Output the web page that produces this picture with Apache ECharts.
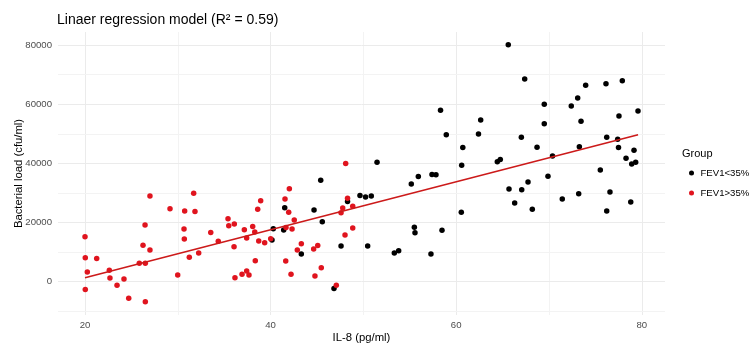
<!DOCTYPE html>
<html>
<head>
<meta charset="utf-8">
<script src="https://cdn.jsdelivr.net/npm/echarts@6/dist/echarts.min.js"></script>
<style>
html,body{margin:0;padding:0;background:#fff;}
#chart{width:754px;height:343px;}
</style>
</head>
<body>
<div id="chart"></div>
<script>
// ---- data ----
const xTicks = [20, 40, 60, 80];
const xMinor = [30, 50, 70];
const yTicks = [0, 20000, 40000, 60000, 80000];
const yMinor = [-10000, 10000, 30000, 50000, 70000];

// Group FEV1<35% (black)
const lowX = [40.15, 40.29, 41.41, 41.52, 43.31, 44.68, 45.40, 45.57, 46.83, 47.59,
  48.29, 49.63, 50.23, 50.85, 51.47, 50.46, 53.33, 53.80, 55.16, 55.92,
  57.39, 57.82, 55.49, 55.56, 58.47, 57.28, 60.59, 60.71, 60.55, 58.93,
  62.40, 58.31, 62.64, 64.43, 64.75, 65.61, 67.38, 67.02, 68.71, 69.49,
  69.49, 70.38, 72.40, 73.09, 73.95, 73.45, 73.27, 76.14, 77.90, 76.22,
  77.40, 77.54, 77.49, 79.59, 79.16, 78.30, 65.69, 66.30, 67.06, 67.74,
  68.20, 69.89, 71.43, 73.20, 75.53, 76.57, 76.22, 78.91, 79.34, 78.81];
const lowY = [14100, 17900, 17500, 25000, 9350, 24200, 34300, 20300, -2300, 12050,
  27100, 29100, 28600, 29000, 40400, 12050, 9700, 10500, 33000, 35600,
  36200, 36150, 18400, 16550, 17400, 9350, 39350, 45400, 23450, 49700,
  49950, 57950, 54650, 40550, 41300, 80100, 68500, 48800, 45450, 60000,
  53420, 42500, 59400, 62100, 66400, 54250, 45650, 66950, 67950, 48850,
  48150, 56000, 45400, 57700, 44400, 41700, 31350, 26600, 31100, 33700,
  24500, 35650, 27950, 29750, 37750, 30350, 23900, 39800, 40350, 26950];

// Group FEV1>35% (red)
const highX = [20.00, 20.03, 21.26, 20.25, 20.03, 22.62, 22.69, 23.45, 24.20, 24.71,
  26.50, 26.25, 26.47, 27.00, 27.00, 25.85, 26.50, 29.16, 30.74, 31.71,
  31.85, 30.67, 30.70, 29.99, 31.24, 32.25, 33.55, 34.36, 35.41, 35.49,
  36.09, 36.06, 36.16, 36.92, 37.42, 37.67, 37.17, 38.07, 38.29, 37.42,
  38.35, 38.72, 39.36, 38.61, 38.93, 40.01, 41.55, 42.02, 41.95, 41.66,
  42.31, 42.55, 41.63, 42.20, 42.88, 43.31, 44.64, 45.08, 44.78, 45.46,
  47.08, 48.02, 47.59, 47.77, 48.09, 48.29, 48.85, 48.85];
const highY = [15200, 8100, 7800, 3300, -2600, 3850, 1250, -1200, 900, -5600,
  -6750, 12300, 19170, 29000, 10700, 6200, 6200, 24700, 23900, 29900,
  23700, 17800, 14400, 2300, 8250, 9700, 16600, 13700, 21300, 18900,
  19500, 11800, 1350, 2500, 3600, 2250, 17600, 18700, 16800, 14800,
  7100, 13750, 13200, 24500, 27400, 14500, 28000, 31400, 23500, 18300,
  17800, 20900, 7000, 2500, 10700, 12850, 11050, 12200, 1900, 4700,
  -1200, 15800, 23300, 24900, 40000, 28200, 25500, 18150];

// fitted regression line (end points)
const fitX = [20, 79.6];
const fitY = [1350, 49650];

const groupNames = ['FEV1<35%', 'FEV1>35%'];
const titleText = 'Linaer regression model (R\u00b2 = 0.59)';
const legendTitle = 'Group';
const xName = 'IL-8 (pg/ml)';
const yName = 'Bacterial load (cfu/ml)';

// ---- build chart ----
const zip = (a, b) => a.map((v, i) => [v, b[i]]);
const FONT = '"Liberation Sans", Arial, sans-serif';
const chart = echarts.init(document.getElementById('chart'), null, {renderer: 'canvas'});

const major = {color: '#ebebeb', width: 1, type: 'solid'};
const minor = {color: '#f3f3f3', width: 1, type: 'solid'};
const gridLines = [].concat(
  xTicks.map(v => ({xAxis: v, lineStyle: major})),
  xMinor.map(v => ({xAxis: v, lineStyle: minor})),
  yTicks.map(v => ({yAxis: v, lineStyle: major})),
  yMinor.map(v => ({yAxis: v, lineStyle: minor}))
);

chart.setOption({
  animation: false,
  backgroundColor: '#ffffff',
  textStyle: {fontFamily: FONT},
  title: [
    {text: titleText, left: 57, top: 13, padding: 0,
     textStyle: {fontSize: 14, fontWeight: 'normal', color: '#000', fontFamily: FONT}},
    {text: legendTitle, left: 682, top: 148, padding: 0,
     textStyle: {fontSize: 11, fontWeight: 'normal', color: '#000', fontFamily: FONT}}
  ],
  legend: {
    data: groupNames,
    orient: 'vertical',
    left: 689, top: 168, padding: 0,
    itemWidth: 8, itemHeight: 5,
    itemGap: 10,
    icon: 'circle',
    textStyle: {fontSize: 9.6, color: '#000', fontFamily: FONT},
    selectedMode: false
  },
  grid: {left: 58, right: 89, top: 32, bottom: 28, containLabel: false, outerBoundsMode: 'none'},
  xAxis: {
    type: 'value', min: 17.09, max: 82.5,
    splitNumber: 3,
    name: xName, nameLocation: 'middle', nameGap: 17, nameMoveOverlap: false,
    nameTextStyle: {fontSize: 11.3, color: '#000', fontFamily: FONT},
    axisLine: {show: false}, axisTick: {show: false},
    splitLine: {show: false},
    axisLabel: {customValues: xTicks, color: '#4d4d4d', fontSize: 9.6, margin: 5,
      fontFamily: FONT,
      formatter: v => (xTicks.indexOf(v) >= 0 ? String(v) : '')}
  },
  yAxis: {
    type: 'value', min: -11260, max: 84420,
    splitNumber: 5,
    name: yName, nameLocation: 'middle', nameGap: 34, nameMoveOverlap: false,
    nameTextStyle: {fontSize: 11.3, color: '#000', fontFamily: FONT},
    axisLine: {show: false}, axisTick: {show: false},
    splitLine: {show: false},
    axisLabel: {customValues: yTicks, color: '#4d4d4d', fontSize: 9.6, margin: 6,
      fontFamily: FONT,
      formatter: v => (yTicks.indexOf(v) >= 0 ? String(v) : '')}
  },
  series: [
    {
      name: 'grid', type: 'line', data: [], z: 0, silent: true,
      markLine: {silent: true, z: 0, symbol: ['none', 'none'], label: {show: false},
        animation: false, emphasis: {disabled: true}, data: gridLines}
    },
    {
      name: groupNames[0], type: 'scatter', data: zip(lowX, lowY),
      symbol: 'circle', symbolSize: 5.5, z: 3,
      itemStyle: {color: '#000000', opacity: 1}
    },
    {
      name: groupNames[1], type: 'scatter', data: zip(highX, highY),
      symbol: 'circle', symbolSize: 5.5, z: 4,
      itemStyle: {color: '#e0141e', opacity: 1}
    },
    {
      name: 'fit', type: 'line', data: zip(fitX, fitY), z: 5,
      showSymbol: false, symbol: 'none', silent: true,
      lineStyle: {color: '#cc1a1a', width: 1.6}
    }
  ]
});
</script>
</body>
</html>
